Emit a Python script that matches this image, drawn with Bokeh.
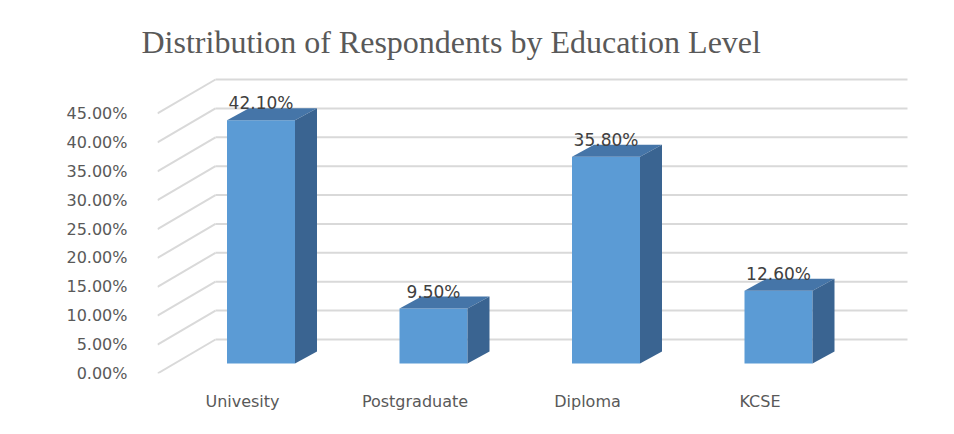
from bokeh.plotting import figure
from bokeh.models import Range1d, FixedTicker, PrintfTickFormatter, ColumnDataSource
from bokeh.embed import file_html
from bokeh.resources import INLINE
from bokeh.core.properties import value

# ---- data ----
categories = ["Univesity", "Postgraduate", "Diploma", "KCSE"]
values = [42.10, 9.50, 35.80, 12.60]          # percent
y_ticks = [0, 5, 10, 15, 20, 25, 30, 35, 40, 45]

# ---- layout constants (pixels) ----
W, H = 938, 418
FRAME_LEFT_PX = 157
FRAME_RIGHT_PAD = 18
FRAME_TOP_PX = 70
FRAME_BOTTOM_PAD = 45
PX_PER_CAT = 172.5
PX_PER_PCT = 5.778
CAT0_PX = 242                # category 0 centre
WALL_DX_PX, WALL_DY_PX = 58, 34
BAR_FRONT_DX_PX, BAR_FRONT_DY_PX = 18.5, 10
BAR_DEPTH_DX_PX, BAR_DEPTH_DY_PX = 22, 12
BAR_HALF_PX = 34
BACK_RIGHT_PX = 907

frame_w = W - FRAME_LEFT_PX - FRAME_RIGHT_PAD
frame_h = H - FRAME_TOP_PX - FRAME_BOTTOM_PAD
x_start = -(CAT0_PX - FRAME_LEFT_PX) / PX_PER_CAT
x_end = x_start + frame_w / PX_PER_CAT
y_end = frame_h / PX_PER_PCT

DX = WALL_DX_PX / PX_PER_CAT
DY = WALL_DY_PX / PX_PER_PCT
bfx = BAR_FRONT_DX_PX / PX_PER_CAT
bfy = BAR_FRONT_DY_PX / PX_PER_PCT
bdx = BAR_DEPTH_DX_PX / PX_PER_CAT
bdy = BAR_DEPTH_DY_PX / PX_PER_PCT
hw = BAR_HALF_PX / PX_PER_CAT
x_back_end = (BACK_RIGHT_PX - CAT0_PX) / PX_PER_CAT

p = figure(width=W, height=H, output_backend="svg", toolbar_location=None,
           x_range=Range1d(x_start, x_end), y_range=Range1d(0, y_end),
           min_border_left=FRAME_LEFT_PX, min_border_right=FRAME_RIGHT_PAD,
           min_border_top=FRAME_TOP_PX, min_border_bottom=FRAME_BOTTOM_PAD,
           title="Distribution of Respondents by Education Level")
p.outline_line_color = None
p.background_fill_color = "white"
p.border_fill_color = "white"
p.xgrid.visible = False
p.ygrid.visible = False

p.title.text_font = "Liberation Serif"
p.title.text_font_size = "32px"
p.title.text_font_style = "normal"
p.title.text_color = "#595959"
p.title.align = "left"
p.title.offset = -16
p.title.standoff = 21

# y axis
p.yaxis.ticker = FixedTicker(ticks=y_ticks)
p.yaxis.formatter = PrintfTickFormatter(format="%.2f%%")
p.yaxis.axis_line_color = None
p.yaxis.major_tick_line_color = None
p.yaxis.minor_tick_line_color = None
p.yaxis.major_label_standoff = 24
p.yaxis.major_label_text_font = "DejaVu Sans"
p.yaxis.major_label_text_font_size = "16px"
p.yaxis.major_label_text_color = "#595959"

# x axis
p.xaxis.ticker = FixedTicker(ticks=list(range(len(categories))))
p.xaxis.major_label_overrides = {i: c for i, c in enumerate(categories)}
p.xaxis.axis_line_color = None
p.xaxis.major_tick_line_color = None
p.xaxis.minor_tick_line_color = None
p.xaxis.major_label_standoff = 12
p.xaxis.major_label_text_font = "DejaVu Sans"
p.xaxis.major_label_text_font_size = "16px"
p.xaxis.major_label_text_color = "#595959"

# walls: left-wall diagonals and back-wall horizontals
diag_xs, diag_ys, back_xs, back_ys = [], [], [], []
for t in y_ticks:
    diag_xs.append([x_start, x_start + DX])
    diag_ys.append([t, t + DY])
    back_xs.append([x_start + DX, x_back_end])
    back_ys.append([t + DY, t + DY])
p.multi_line(diag_xs, diag_ys, line_color="#D9D9D9", line_width=2)
p.multi_line(back_xs, back_ys, line_color="#D9D9D9", line_width=2)

# bars (front face, top face, side face)
front_l, front_r, front_b, front_t = [], [], [], []
top_xs, top_ys, side_xs, side_ys = [], [], [], []
lab_x, lab_y, lab_t = [], [], []
for i, v in enumerate(values):
    cx = i + bfx
    l, r = cx - hw, cx + hw
    b, t = bfy, v + bfy
    front_l.append(l); front_r.append(r); front_b.append(b); front_t.append(t)
    top_xs.append([l, r, r + bdx, l + bdx])
    top_ys.append([t, t, t + bdy, t + bdy])
    side_xs.append([r, r + bdx, r + bdx, r])
    side_ys.append([b, b + bdy, t + bdy, t])
    lab_x.append(cx)
    lab_y.append(t + bdy)
    lab_t.append(f"{v:.2f}%")

p.quad(left=front_l, right=front_r, bottom=front_b, top=front_t,
       fill_color="#5B9BD5", line_color=None)
p.patches(top_xs, top_ys, fill_color="#4575A8", line_color=None)
p.patches(side_xs, side_ys, fill_color="#3A6491", line_color=None)

src = ColumnDataSource(dict(x=lab_x, y=lab_y, text=lab_t))
p.text(x="x", y="y", text="text", source=src, text_align="center",
       text_baseline="alphabetic", y_offset=-5,
       text_font=value("DejaVu Sans"), text_font_size="17px", text_color="#404040")

open("out.html", "w").write(file_html(p, INLINE))
